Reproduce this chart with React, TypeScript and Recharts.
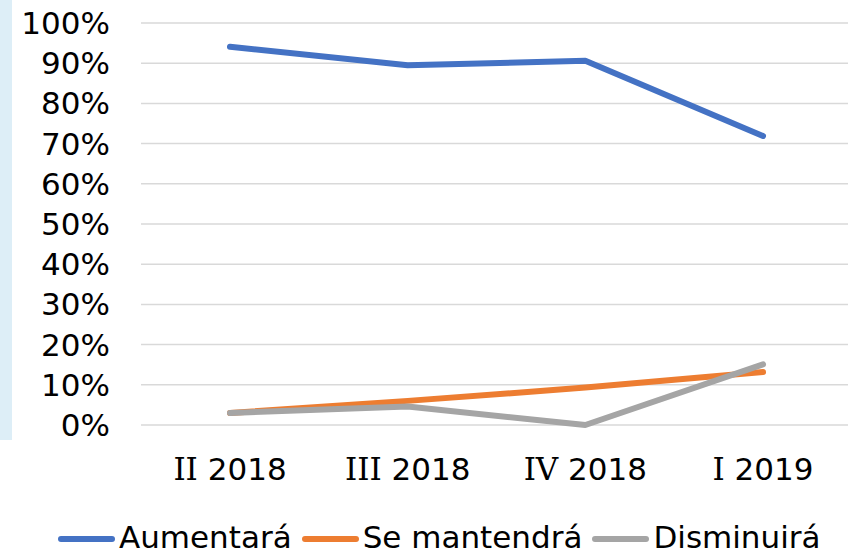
import React from "react"
import { CartesianGrid, Legend, Line, LineChart, XAxis, YAxis } from "recharts"

const periods = ["II 2018", "III 2018", "IV 2018", "I 2019"]
const aumentara = [0.941, 0.895, 0.906, 0.719]
const mantendra = [0.03, 0.06, 0.093, 0.132]
const disminuira = [0.03, 0.046, 0.0, 0.151]
const yTicks = [0, 0.1, 0.2, 0.3, 0.4, 0.5, 0.6, 0.7, 0.8, 0.9, 1]

const series = [
  { key: "aumentara", name: "Aumentará", color: "#4472C4" },
  { key: "mantendra", name: "Se mantendrá", color: "#ED7D31" },
  { key: "disminuira", name: "Disminuirá", color: "#A5A5A5" },
]

const data = periods.map((p, i) => ({
  period: p,
  aumentara: aumentara[i],
  mantendra: mantendra[i],
  disminuira: disminuira[i],
}))

const sans = "'DejaVu Sans', Verdana, sans-serif"
const serif = "'DejaVu Serif', serif"

// Verdana draws the roman "I" with slab serifs, so split the label
function PeriodTick(props: any) {
  const { x, y, payload } = props
  const [roman, year] = String(payload.value).split(" ")
  return (
    <text x={x} y={y} dy="0.71em" textAnchor="middle" fill="#000" fontSize={31}>
      <tspan fontFamily={serif}>{roman}</tspan>
      <tspan fontFamily={sans}>{" " + year}</tspan>
    </text>
  )
}

function LegendRow() {
  return (
    <div
      style={{
        display: "flex",
        alignItems: "center",
        height: 40,
        paddingLeft: 58,
        fontFamily: sans,
        fontSize: 31,
        color: "#000",
        whiteSpace: "nowrap",
      }}
    >
      {series.map((s) => (
        <div key={s.key} style={{ display: "flex", alignItems: "center", marginRight: 10 }}>
          <svg width={57} height={8} style={{ marginRight: 4, marginTop: 4 }}>
            <line x1={3} y1={4} x2={54} y2={4} stroke={s.color} strokeWidth={6} strokeLinecap="round" />
          </svg>
          <span>{s.name}</span>
        </div>
      ))}
    </div>
  )
}

export default function App() {
  return (
    <div
      style={{
        position: "absolute",
        left: 0,
        top: 0,
        width: 848,
        height: 553,
        overflow: "hidden",
        background: "#fff",
      }}
    >
      <div style={{ position: "absolute", left: 0, top: 0, width: 12, height: 440, background: "#DDEEF7" }} />
      <LineChart width={860} height={553} data={data} margin={{ top: 23, right: 8, left: 0, bottom: 28 }}>
        <CartesianGrid vertical={false} stroke="#D9D9D9" strokeWidth={1.5} />
        <XAxis
          dataKey="period"
          axisLine={false}
          tickLine={false}
          tickMargin={27}
          height={60}
          padding={{ left: 89, right: 89 }}
          tick={<PeriodTick />}
        />
        <YAxis
          width={141}
          domain={[0, 1]}
          ticks={yTicks}
          axisLine={false}
          tickLine={false}
          tickMargin={25}
          interval={0}
          tickFormatter={(v) => `${Math.round(v * 100)}%`}
          tick={{ fill: "#000", fontSize: 31, fontFamily: sans }}
        />
        <Legend verticalAlign="bottom" content={<LegendRow />} wrapperStyle={{ top: 517, left: 0, width: 860 }} />
        {series.map((s) => (
          <Line
            key={s.key}
            type="linear"
            dataKey={s.key}
            name={s.name}
            stroke={s.color}
            strokeWidth={6}
            strokeLinecap="round"
            strokeLinejoin="round"
            dot={false}
            activeDot={false}
            isAnimationActive={false}
          />
        ))}
      </LineChart>
    </div>
  )
}
